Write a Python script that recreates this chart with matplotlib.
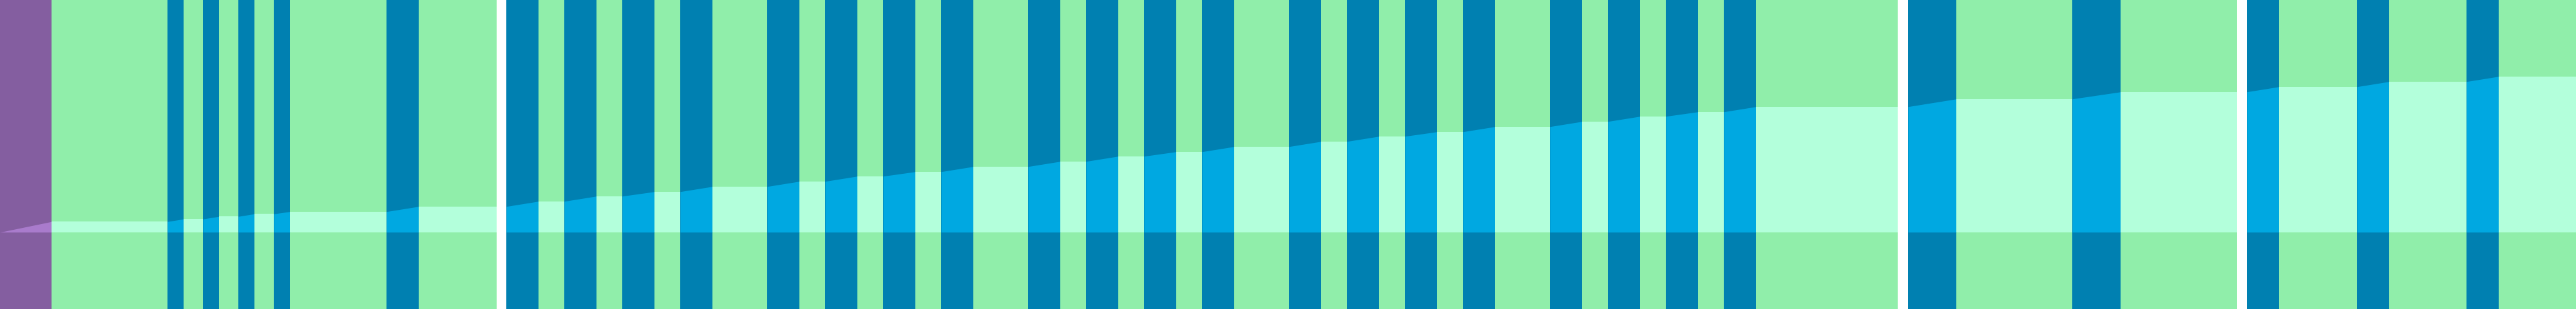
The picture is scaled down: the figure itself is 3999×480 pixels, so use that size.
import matplotlib
matplotlib.use("Agg")
import matplotlib.pyplot as plt
import numpy as np

# Segment kinds, durations and the level reached at the end of each segment
seg_kind = ["purple",
            "green", "blue", "green", "blue", "green", "blue", "green", "blue", "green",
            "blue", "green", "white",
            "blue", "green", "blue", "green", "blue", "green", "blue", "green",
            "blue", "green", "blue", "green", "blue", "green", "blue", "green",
            "blue", "green", "blue", "green", "blue", "green", "blue", "green",
            "blue", "green", "blue", "green", "blue", "green", "blue", "green",
            "blue", "green", "blue", "green", "blue", "green", "blue", "green",
            "white", "blue", "green", "blue", "green", "white",
            "blue", "green", "blue", "green", "blue", "green"]

seg_duration = [80,
                180, 25, 30, 25, 30, 25, 30, 25, 150,
                50, 121, 15,
                50, 40, 50, 40, 50, 40, 50, 85,
                50, 40, 50, 40, 50, 40, 50, 85,
                50, 40, 50, 40, 50, 40, 50, 85,
                50, 40, 50, 40, 50, 40, 50, 85,
                50, 40, 50, 40, 50, 40, 50, 220,
                16, 75, 180, 75, 181, 15,
                50, 121, 50, 120, 50, 120]

seg_level = [16.5,
             16.5, 20.5, 20.5, 24.5, 24.5, 28.5, 28.5, 32, 32,
             40, 40, 40,
             48, 48, 56, 56, 63, 63, 71, 71,
             79, 79, 87, 87, 94, 94, 102, 102,
             110, 110, 118, 118, 125, 125, 133, 133,
             141, 141, 149, 149, 156, 156, 164, 164,
             172, 172, 180, 180, 187, 187, 195, 195,
             195, 207, 207, 218, 218, 218,
             226, 226, 234, 234, 242, 242]

start_level = 0.0

band_color = {"purple": "#845EA0", "green": "#90EEAA", "blue": "#0080B1", "white": "#FFFFFF"}
fill_color = {"purple": "#A97BCC", "green": "#B3FFDB", "blue": "#00A8E1", "white": None}

fig = plt.figure(figsize=(39.99, 4.8), dpi=100)
ax = fig.add_axes([0, 0, 1, 1])
ax.set_axis_off()

edges = np.concatenate([[0], np.cumsum(seg_duration)])
levels = np.concatenate([[start_level], seg_level])

for i, kind in enumerate(seg_kind):
    x0, x1 = edges[i], edges[i + 1]
    ax.axvspan(x0, x1, color=band_color[kind], lw=0, zorder=1)
    if fill_color[kind] is not None:
        ax.fill_between([x0, x1], [0, 0], [levels[i], levels[i + 1]],
                        color=fill_color[kind], lw=0, zorder=2)

ax.set_xlim(0, edges[-1])
ax.set_ylim(-119.3, 360.7)
fig.savefig("out.png", dpi=100)
